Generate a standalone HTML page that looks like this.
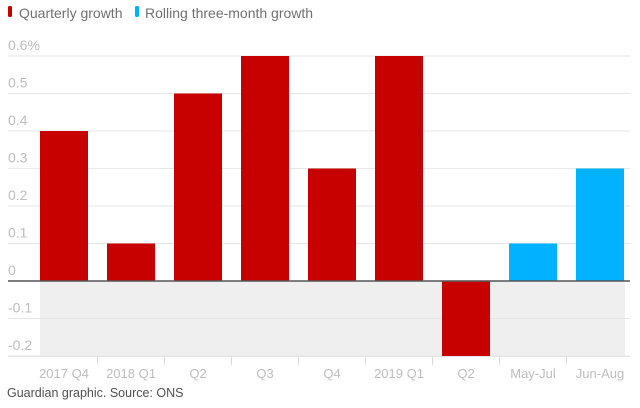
<!DOCTYPE html>
<html><head><meta charset="utf-8"><style>
body{margin:0;background:#fff;font-family:"Liberation Sans",sans-serif}
svg text{font-family:"Liberation Sans",sans-serif}
</style></head><body>
<svg width="640" height="403">
<g>
<rect x="8" y="6" width="4" height="11" rx="1.5" fill="#c70000"/>
<text x="19" y="18" font-size="14" fill="#707070">Quarterly growth</text>
<rect x="135" y="6" width="4" height="11" rx="1.5" fill="#00b2ff"/>
<text x="145" y="18" font-size="14" fill="#707070">Rolling three-month growth</text>
</g>
<g id="plot"></g>
<text x="7" y="397" font-size="12.5" fill="#505050">Guardian graphic. Source: ONS</text>
</svg>
<script>
const categories=["2017 Q4","2018 Q1","Q2","Q3","Q4","2019 Q1","Q2","May-Jul","Jun-Aug"];
const values=[0.4,0.1,0.5,0.6,0.3,0.6,-0.2,0.1,0.3];
const seriesType=["q","q","q","q","q","q","q","r","r"];
const ticks=[-0.2,-0.1,0,0.1,0.2,0.3,0.4,0.5,0.6];
const tickLabels=["-0.2","-0.1","0","0.1","0.2","0.3","0.4","0.5","0.6%"];
const NS="http://www.w3.org/2000/svg";
const g=document.getElementById('plot');
const y=v=>281-v*375;
const x0=40,pitch=67,bw=48;
const xc=i=>x0+i*pitch;
function mk(t,a){const e=document.createElementNS(NS,t);for(const k in a)e.setAttribute(k,a[k]);g.appendChild(e);return e;}
let band=mk('rect',{x:40,y:y(0),width:585,height:y(ticks[0])-y(0),fill:'#efefef'});


ticks.forEach((t,i)=>{
  if(t!==0){let l=mk('line',{x1:8,x2:630,y1:y(t),y2:y(t),stroke:'#e6e6e6','stroke-width':1});
  
  }
  let tx=mk('text',{x:8,y:y(t)-6,'font-size':14,fill:'#bdbdbd'});tx.textContent=tickLabels[i];
  
  
});
values.forEach((v,i)=>{
  let r=mk('rect',{x:xc(i),y:Math.min(y(v),y(0)),width:bw,height:Math.abs(y(v)-y(0)),fill:seriesType[i]=='q'?'#c70000':'#00b2ff'});
  
  
  let lb=mk('text',{x:xc(i)+bw/2,y:378,'font-size':13,fill:'#bdbdbd','text-anchor':'middle'});lb.textContent=categories[i];
  
  
  if(i>0){let s=mk('line',{x1:xc(i)-9.5,x2:xc(i)-9.5,y1:357,y2:365,stroke:'#dcdcdc'});
  
  }
});
let z=mk('line',{x1:8,x2:630,y1:y(0),y2:y(0),stroke:'#555','stroke-width':1.5});


let b=mk('line',{x1:8,x2:630,y1:y(ticks[0])+0.5,y2:y(ticks[0])+0.5,stroke:'#e6e6e6'});


</script>
</body></html>
